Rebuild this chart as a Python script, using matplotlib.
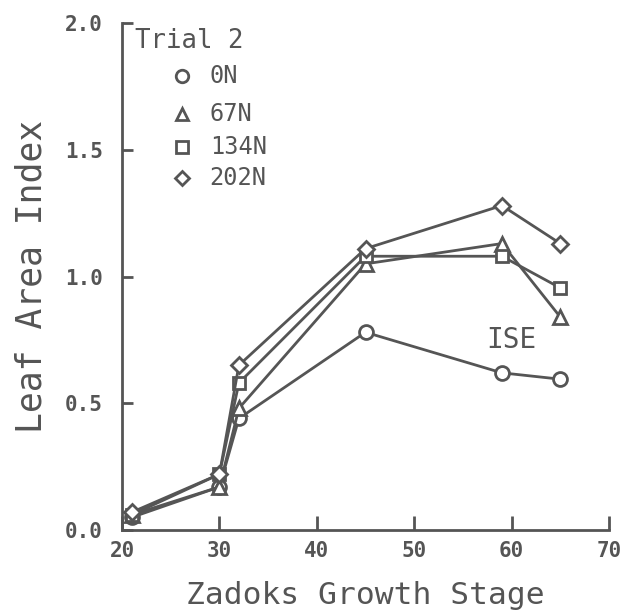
import numpy as np
import matplotlib
matplotlib.use('Agg')
import matplotlib.pyplot as plt

plt.rcParams['font.family'] = ['DejaVu Sans Mono', 'DejaVu Sans']

# Leaf area index by Zadoks growth stage, trial 2
stages = [21, 30, 32, 45, 59, 65]
lai_0n = [0.05, 0.17, 0.44, 0.78, 0.62, 0.595]
lai_67n = [0.06, 0.17, 0.48, 1.05, 1.13, 0.84]
lai_134n = [0.06, 0.22, 0.58, 1.08, 1.08, 0.955]
lai_202n = [0.07, 0.22, 0.65, 1.11, 1.28, 1.13]

labels = ['0N', '67N', '134N', '202N']
markers = ['o', '^', 's', 'D']
msizes = [10, 10, 9, 8]
series = [lai_0n, lai_67n, lai_134n, lai_202n]

ink = '#555555'

fig = plt.figure(figsize=(6.21, 6.14), dpi=100)
ax = fig.add_axes([0.1965, 0.1368, 0.7842, 0.8257])

for y, m, ms in zip(series, markers, msizes):
    ax.plot(stages, y, color=ink, lw=2.0, marker=m, ms=ms,
            mfc='white', mec=ink, mew=2.0)

ax.set_xlim(20, 70)
ax.set_ylim(0, 2.0)
ax.set_xticks([20, 30, 40, 50, 60, 70])
ax.set_yticks([0.0, 0.5, 1.0, 1.5, 2.0])
ax.set_yticklabels(['0.0', '0.5', '1.0', '1.5', '2.0'])

for s in ['top', 'right']:
    ax.spines[s].set_visible(False)
for s in ['left', 'bottom']:
    ax.spines[s].set_color(ink)
    ax.spines[s].set_linewidth(2.0)

ax.tick_params(axis='x', direction='in', length=10, width=2, color=ink,
               labelsize=15, labelcolor=ink, pad=8)
ax.tick_params(axis='y', direction='in', length=8, width=2, color=ink,
               labelsize=15, labelcolor=ink, pad=14)
for t in ax.get_xticklabels() + ax.get_yticklabels():
    t.set_fontweight('bold')

ax.set_xlabel('Zadoks Growth Stage', fontsize=22.5, color=ink, labelpad=14)
ax.set_ylabel('Leaf Area Index', fontsize=25, color=ink, labelpad=12)

# legend block in the upper left corner
ax.text(0.026, 0.965, 'Trial 2', transform=ax.transAxes, fontsize=18.5,
        color=ink, va='center', ha='left')
rows = [0.895, 0.82, 0.755, 0.695]
for yy, lab, m, ms in zip(rows, labels, markers, msizes):
    ax.plot([0.124], [yy], transform=ax.transAxes, marker=m, ms=ms - 1,
            mfc='white', mec=ink, mew=2.0, ls='none', clip_on=False)
    ax.text(0.18, yy, lab, transform=ax.transAxes, fontsize=17,
            color=ink, va='center', ha='left')

ax.text(60.0, 0.75, 'ISE', fontsize=20, color=ink, ha='center', va='center')

fig.savefig('out.png', dpi=100)
